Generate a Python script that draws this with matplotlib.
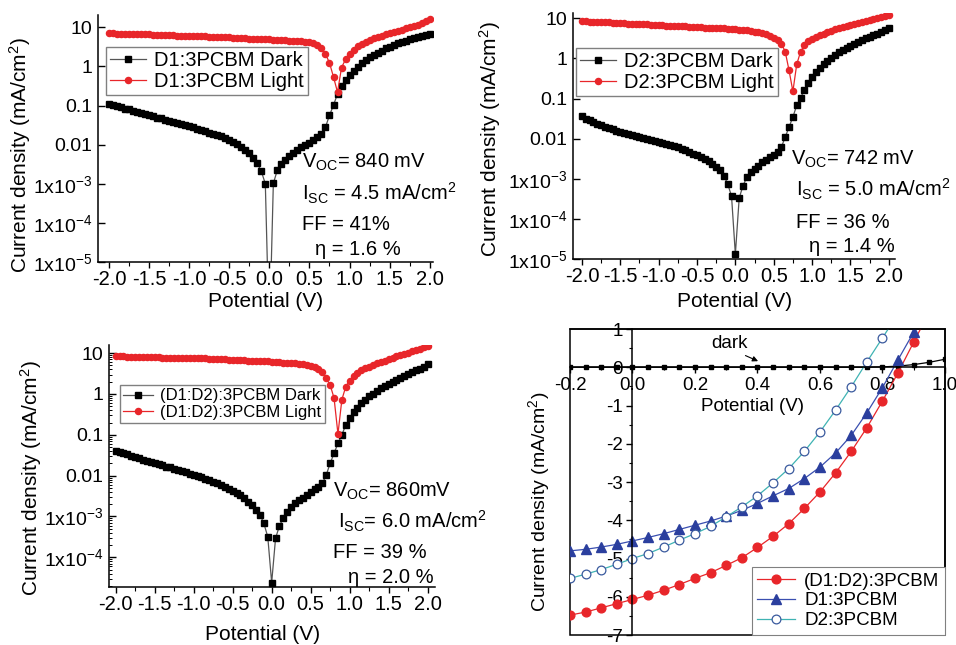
import numpy as np
import matplotlib
matplotlib.use("Agg")
from matplotlib import pyplot as plt
from matplotlib.patches import Rectangle
from matplotlib.ticker import MultipleLocator, LogLocator, NullFormatter

plt.rcParams['font.family'] = ['Liberation Sans', 'DejaVu Sans']
plt.rcParams['mathtext.default'] = 'regular'
plt.rcParams['axes.unicode_minus'] = False

# sweep voltages of the log J-V curves (V)
volts = np.linspace(-2.0, 2.0, 81)

# log10 of |J| (mA/cm2), from -2.0 V to 2.0 V in 0.05 V steps
dark1_log = [-0.95, -0.99, -1.02, -1.05, -1.08, -1.10, -1.13, -1.16, -1.19, -1.22,
             -1.25, -1.28, -1.31, -1.33, -1.36, -1.39, -1.42, -1.45, -1.47, -1.50,
             -1.53, -1.56, -1.59, -1.63, -1.66, -1.69, -1.72, -1.75, -1.79, -1.83,
             -1.87, -1.92, -1.98, -2.05, -2.13, -2.22, -2.34, -2.48, -2.68, -3.00,
             -7.00,
             -2.99, -2.65, -2.50, -2.38, -2.29, -2.21, -2.14, -2.07, -2.01, -1.95,
             -1.88, -1.80, -1.72, -1.55, -1.25, -0.99, -0.70, -0.50, -0.35, -0.22,
             -0.11, -0.01, 0.08, 0.16, 0.23, 0.29, 0.35, 0.40, 0.46, 0.50,
             0.55, 0.59, 0.62, 0.66, 0.69, 0.73, 0.76, 0.79, 0.81, 0.84]
light1_log = [0.85, 0.85, 0.84, 0.84, 0.84, 0.83, 0.83, 0.83, 0.82, 0.82,
              0.82, 0.81, 0.81, 0.81, 0.80, 0.80, 0.80, 0.79, 0.79, 0.79,
              0.78, 0.78, 0.77, 0.77, 0.77, 0.76, 0.76, 0.75, 0.75, 0.74,
              0.74, 0.73, 0.73, 0.72, 0.72, 0.71, 0.71, 0.70, 0.70, 0.69,
              0.69, 0.68, 0.68, 0.67, 0.67, 0.66, 0.66, 0.65, 0.64, 0.63,
              0.62, 0.60, 0.55, 0.46, 0.32, 0.09, -0.27, -0.66, -0.03, 0.18,
              0.32, 0.43, 0.51, 0.58, 0.63, 0.68, 0.72, 0.76, 0.79, 0.83,
              0.86, 0.89, 0.91, 0.94, 0.97, 1.00, 1.03, 1.06, 1.10, 1.15, 1.20]

dark2_log = [-1.44, -1.50, -1.54, -1.58, -1.63, -1.66, -1.70, -1.73, -1.77, -1.80,
             -1.83, -1.85, -1.88, -1.90, -1.93, -1.95, -1.98, -2.00, -2.03, -2.05,
             -2.08, -2.10, -2.13, -2.15, -2.18, -2.21, -2.25, -2.29, -2.33, -2.37,
             -2.41, -2.45, -2.50, -2.56, -2.63, -2.70, -2.79, -2.92, -3.13, -3.43,
             -4.88,
             -3.48, -3.17, -2.96, -2.83, -2.75, -2.67, -2.58, -2.52, -2.46, -2.40,
             -2.33, -2.21, -1.96, -1.71, -1.46, -1.17, -0.98, -0.79, -0.60, -0.46,
             -0.33, -0.23, -0.14, -0.06, 0.02, 0.08, 0.15, 0.21, 0.27, 0.32,
             0.37, 0.42, 0.46, 0.50, 0.54, 0.58, 0.62, 0.66, 0.71, 0.75]
light2_log = [0.93, 0.93, 0.92, 0.92, 0.91, 0.91, 0.90, 0.90, 0.89, 0.89,
              0.88, 0.88, 0.87, 0.87, 0.86, 0.86, 0.85, 0.85, 0.84, 0.84,
              0.83, 0.83, 0.82, 0.82, 0.81, 0.81, 0.80, 0.80, 0.79, 0.79,
              0.78, 0.78, 0.77, 0.77, 0.76, 0.76, 0.75, 0.75, 0.74, 0.74,
              0.73, 0.72, 0.71, 0.70, 0.68, 0.67, 0.65, 0.63, 0.60, 0.56,
              0.51, 0.45, 0.37, 0.17, -0.30, -0.82, -0.15, 0.17, 0.33, 0.43,
              0.48, 0.54, 0.58, 0.62, 0.66, 0.69, 0.73, 0.76, 0.78, 0.81,
              0.83, 0.86, 0.88, 0.91, 0.93, 0.95, 0.98, 1.00, 1.03, 1.06, 1.09]

dark3_log = [-1.39, -1.43, -1.45, -1.48, -1.51, -1.54, -1.57, -1.61, -1.64, -1.67,
             -1.70, -1.72, -1.75, -1.78, -1.80, -1.83, -1.86, -1.89, -1.92, -1.95,
             -1.98, -2.01, -2.04, -2.07, -2.11, -2.15, -2.19, -2.23, -2.27, -2.32,
             -2.37, -2.42, -2.47, -2.55, -2.64, -2.73, -2.84, -2.96, -3.17, -3.50,
             -4.62,
             -3.53, -3.23, -3.03, -2.88, -2.78, -2.68, -2.60, -2.54, -2.47, -2.41,
             -2.33, -2.27, -2.19, -1.98, -1.70, -1.45, -1.21, -1.00, -0.76, -0.59,
             -0.45, -0.34, -0.23, -0.14, -0.06, 0.01, 0.08, 0.14, 0.20, 0.25,
             0.30, 0.35, 0.40, 0.45, 0.49, 0.53, 0.58, 0.62, 0.67, 0.73]
light3_log = [0.92, 0.92, 0.92, 0.91, 0.91, 0.91, 0.91, 0.90, 0.90, 0.90,
              0.90, 0.90, 0.89, 0.89, 0.89, 0.89, 0.89, 0.88, 0.88, 0.88,
              0.88, 0.87, 0.87, 0.87, 0.86, 0.86, 0.86, 0.85, 0.85, 0.84,
              0.84, 0.84, 0.83, 0.83, 0.82, 0.82, 0.81, 0.81, 0.80, 0.80,
              0.79, 0.79, 0.78, 0.77, 0.77, 0.76, 0.75, 0.74, 0.73, 0.71,
              0.69, 0.66, 0.61, 0.53, 0.38, 0.22, -0.10, -0.98, -0.14, 0.18,
              0.33, 0.45, 0.52, 0.58, 0.63, 0.67, 0.71, 0.75, 0.79, 0.82,
              0.86, 0.89, 0.92, 0.95, 0.98, 1.01, 1.05, 1.08, 1.11, 1.15, 1.18]

# linear J-V under light (mA/cm2), -0.2 V to 0.95 V in 0.05 V steps
v_light = np.linspace(-0.2, 0.95, 24)
j_blend = [-6.48, -6.40, -6.29, -6.18, -6.07, -5.96, -5.83, -5.68, -5.52, -5.37, -5.18, -4.98,
           -4.71, -4.42, -4.09, -3.69, -3.26, -2.76, -2.20, -1.58, -0.88, -0.14, 0.66, 1.45]
j_d1 = [-4.80, -4.76, -4.70, -4.63, -4.54, -4.45, -4.35, -4.24, -4.13, -4.02, -3.89, -3.74,
        -3.56, -3.36, -3.17, -2.91, -2.61, -2.24, -1.78, -1.19, -0.53, 0.20, 0.92, 1.65]
j_d2 = [-5.52, -5.41, -5.29, -5.15, -5.00, -4.87, -4.70, -4.52, -4.35, -4.16, -3.91, -3.65,
        -3.36, -3.02, -2.65, -2.20, -1.69, -1.12, -0.51, 0.14, 0.77, 1.40, 2.00, 2.60]
v_dark = np.linspace(-0.2, 1.0, 25)
j_dark = [0, 0, 0, 0, 0, 0, 0, 0, 0, 0, 0, 0, 0, 0, 0, 0, 0, 0, 0, 0,
          0.01, 0.03, 0.07, 0.13, 0.21]

RED = '#e8262a'
dec_labels = ['1x10$^{-5}$', '1x10$^{-4}$', '1x10$^{-3}$', '0.01', '0.1', '1', '10']
dec_values = [1e-5, 1e-4, 1e-3, 1e-2, 1e-1, 1, 10]

fig = plt.figure(figsize=(9.56, 6.45), dpi=100)


def log_panel(rect, dark_log, light_log, names, xlim, ylim, leg_xy, leg_size,
              info, xlab_xy, ylab_xy):
    ax = fig.add_axes(rect)
    ax.plot(volts, 10 ** np.array(dark_log), color='#555555', lw=0.9, marker='s',
            ms=4.0, mfc='black', mec='black', label=names[0])
    ax.plot(volts, 10 ** np.array(light_log), color=RED, lw=0.9, marker='o',
            ms=4.4, mfc=RED, mec=RED, label=names[1])
    ax.set_yscale('log')
    ax.set_xlim(*xlim)
    ax.set_ylim(*ylim)
    ax.set_yticks([v for v in dec_values if v >= ylim[0]])
    ax.set_yticklabels([l for v, l in zip(dec_values, dec_labels) if v >= ylim[0]])
    ax.yaxis.set_minor_locator(LogLocator(base=10, subs=np.arange(2, 10)))
    ax.yaxis.set_minor_formatter(NullFormatter())
    ax.set_xticks(np.arange(-2.0, 2.01, 0.5))
    ax.set_xticklabels(['%.1f' % v for v in np.arange(-2.0, 2.01, 0.5)])
    ax.xaxis.set_minor_locator(MultipleLocator(0.25))
    ax.tick_params(axis='y', which='major', direction='in', length=5, width=1,
                   labelsize=14, pad=4)
    ax.tick_params(axis='y', which='minor', direction='in', length=2.5, width=0.7)
    ax.tick_params(axis='x', which='major', direction='out', length=4, width=1,
                   labelsize=14.5, pad=2)
    ax.tick_params(axis='x', which='minor', direction='out', length=3, width=0.8)
    for s in ('top', 'right'):
        ax.spines[s].set_visible(False)
    for s in ('left', 'bottom'):
        ax.spines[s].set_linewidth(1.1)
    leg = ax.legend(loc='upper left', bbox_to_anchor=leg_xy, fontsize=leg_size,
                    fancybox=False, edgecolor='#808080', framealpha=1,
                    borderpad=0.2, labelspacing=0.1, handlelength=1.8,
                    handletextpad=0.4, borderaxespad=0)
    leg.get_frame().set_linewidth(1.0)
    for (x, y, s) in info:
        ax.text(x, y, s, transform=ax.transAxes, fontsize=14.5, va='baseline')
    ax.set_xlabel('Potential (V)', fontsize=15)
    ax.set_ylabel('Current density (mA/cm$^2$)', fontsize=15)
    ax.xaxis.set_label_coords(*xlab_xy)
    ax.yaxis.set_label_coords(*ylab_xy)
    return ax


log_panel([0.1025, 0.5938, 0.3504, 0.3829], dark1_log, light1_log,
          ['D1:3PCBM Dark', 'D1:3PCBM Light'], (-2.136, 2.04), (1e-5, 20.6),
          (0.024, 0.872), 14.5,
          [(0.609, 0.381, 'V$_{OC}$= 840 mV'),
           (0.609, 0.251, 'I$_{SC}$ = 4.5 mA/cm$^2$'),
           (0.609, 0.130, 'FF = 41%'),
           (0.648, 0.028, 'η = 1.6 %')],
          (0.50, -0.121), (-0.193, 0.433))

log_panel([0.5991, 0.5984, 0.3374, 0.3809], dark2_log, light2_log,
          ['D2:3PCBM Dark', 'D2:3PCBM Light'], (-2.12, 2.085), (1e-5, 13.3),
          (0.010, 0.860), 14.5,
          [(0.677, 0.383, 'V$_{OC}$= 742 mV'),
           (0.692, 0.254, 'I$_{SC}$ = 5.0 mA/cm$^2$'),
           (0.692, 0.126, 'FF = 36 %'),
           (0.733, 0.030, 'η = 1.4 %')],
          (0.503, -0.134), (-0.215, 0.488))

log_panel([0.1140, 0.0904, 0.3410, 0.3747], dark3_log, light3_log,
          ['(D1:D2):3PCBM Dark', '(D1:D2):3PCBM Light'], (-2.086, 2.094),
          (10 ** -4.72, 10 ** 1.2), (0.034, 0.834), 12,
          [(0.688, 0.372, 'V$_{OC}$= 860mV'),
           (0.703, 0.242, 'I$_{SC}$= 6.0 mA/cm$^2$'),
           (0.688, 0.118, 'FF = 39 %'),
           (0.734, 0.014, 'η = 2.0 %')],
          (0.472, -0.158), (-0.2, 0.45))

# linear J-V panel
ax4 = fig.add_axes([0.5962, 0.0155, 0.3923, 0.4744])
ax4.plot(v_dark, j_dark, color='black', lw=0.9, marker='s', ms=3.0)
ax4.plot(v_light, j_blend, color=RED, lw=0.9, marker='o', ms=6.3, mfc=RED, mec=RED,
         label='(D1:D2):3PCBM')
ax4.plot(v_light, j_d1, color='#3a4fb0', lw=0.9, marker='^', ms=6.8, mfc='#2b3f9e',
         mec='#2b3f9e', label='D1:3PCBM')
ax4.plot(v_light, j_d2, color='#3fb3b3', lw=0.9, marker='o', ms=6.3, mfc='white',
         mec='#3a5a9e', mew=0.9, label='D2:3PCBM')
ax4.set_xlim(-0.2, 1.0)
ax4.set_ylim(-7, 1)
ax4.spines['left'].set_position(('data', 0))
ax4.spines['bottom'].set_position(('data', 0))
for s in ax4.spines.values():
    s.set_linewidth(1.1)
ax4.add_patch(Rectangle((0, 0), 1, 1, transform=ax4.transAxes, fill=False,
                        lw=1.1, ec='black', clip_on=False))
ax4.set_xticks(np.arange(-0.2, 1.01, 0.2))
ax4.set_xticklabels(['%.1f' % v for v in np.arange(-0.2, 1.01, 0.2)])
ax4.xaxis.set_minor_locator(MultipleLocator(0.1))
ax4.set_yticks(np.arange(-7, 2, 1))
ax4.yaxis.set_minor_locator(MultipleLocator(0.5))
ax4.tick_params(which='major', direction='out', length=4, width=1, labelsize=13.5, pad=3)
ax4.tick_params(which='minor', direction='out', length=2.5, width=0.8)
ax4.annotate('dark', xy=(0.41, 0.13), xytext=(0.31, 0.63), fontsize=13.5,
             ha='center', va='center',
             arrowprops=dict(arrowstyle='-|>', color='black', lw=0.8,
                             mutation_scale=8, relpos=(0.7, 0.0)))
leg4 = ax4.legend(loc='lower right', fontsize=13.5, fancybox=False, edgecolor='#808080',
                  framealpha=1, borderpad=0.3, labelspacing=0.15,
                  handletextpad=0.5, borderaxespad=0)
leg4.get_frame().set_linewidth(0.8)
ax4.set_xlabel('Potential (V)', fontsize=13.5)
ax4.set_ylabel('Current density (mA/cm$^2$)', fontsize=14)
ax4.xaxis.set_label_coords(0.488, 0.775)
ax4.yaxis.set_label_coords(-0.048, 0.435)

fig.savefig('out.png', dpi=100)
